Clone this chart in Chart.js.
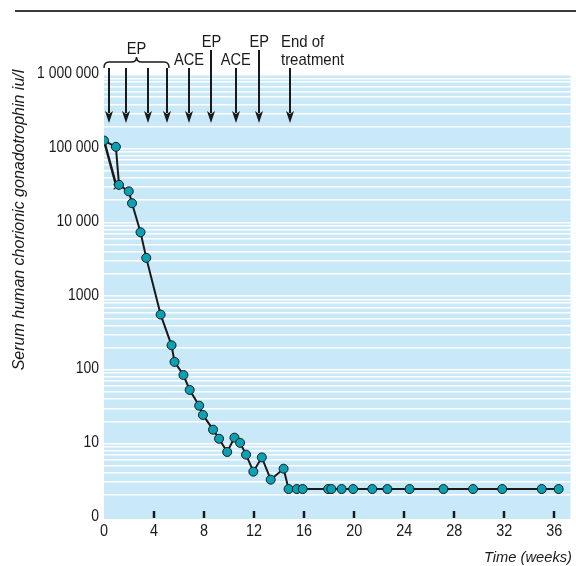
<!DOCTYPE html>
<html><head><meta charset="utf-8">
<script src="https://cdn.jsdelivr.net/npm/chart.js@4/dist/chart.umd.min.js"></script>
<style>html,body{margin:0;padding:0;background:#fff}canvas{display:block}</style>
</head><body>
<canvas id="c" width="576" height="566"></canvas>
<script>
// ---- data ----
const weeks = [0, 0.95, 1.2, 1.98, 2.24, 2.92, 3.38, 4.53, 5.40, 5.64, 6.35, 6.85, 7.61, 7.91, 8.72, 9.20, 9.85, 10.43, 10.88, 11.36, 11.94, 12.62, 13.33, 14.36, 14.76, 15.42, 15.89, 17.92, 18.18, 19.0, 19.92, 21.45, 22.66, 24.43, 27.14, 29.51, 31.84, 35.0, 36.35];
const hcg = [129000, 106000, 32300, 26400, 18200, 7350, 3300, 561, 215, 128, 85, 53.3, 32.6, 24.4, 15.4, 11.6, 7.67, 12.0, 10.2, 7.05, 4.15, 6.48, 3.23, 4.55, 2.41, 2.41, 2.41, 2.41, 2.41, 2.41, 2.41, 2.41, 2.41, 2.41, 2.41, 2.41, 2.41, 2.41, 2.41];
const altWeeks = [0, 1.0];
const altHcg = [129000, 30600];

const xTicks = [0, 4, 8, 12, 16, 20, 24, 28, 32, 36];
const xLabels = ['0', '4', '8', '12', '16', '20', '24', '28', '32', '36'];
const yDecades = [1, 10, 100, 1000, 10000, 100000, 1000000];
const yLabels = ['0', '10', '100', '1000', '10 000', '100 000', '1 000 000'];
const yTitle = 'Serum human chorionic gonadotrophin iu/l';
const xTitle = 'Time (weeks)';

const arrowWeeks = [0.42, 1.79, 3.50, 5.04, 6.80, 8.59, 10.54, 12.41, 14.84];
const arrowTall = [false, false, false, false, false, true, false, true, false];
const braceWeeks = [0, 5.2];
const topLabels = ['EP', 'ACE', 'EP', 'ACE', 'EP'];
const topLabelWeeks = [2.6, 6.80, 8.59, 10.54, 12.41];
const topLabelRow = [0, 1, 0, 1, 0];
const endLabel = ['End of', 'treatment'];
const endLabelWeek = 14.15;

const FAM = "'Liberation Sans','Arial',sans-serif";
const INK = '#1a1a1a';

// grid values: 1..9 x 10^k
const gridVals = [];
for (let e = 0; e < 6; e++) for (let s = 1; s < 10; s++) gridVals.push(s * Math.pow(10, e));
gridVals.push(1000000);

function narrowText(ctx, text, x, y, sx, align) {
  ctx.save();
  ctx.translate(x, y);
  ctx.scale(sx, 1);
  ctx.textAlign = align;
  ctx.fillText(text, 0, 0);
  ctx.restore();
}

const decor = {
  id: 'decor',
  beforeDraw(chart) {
    const {ctx, chartArea: a} = chart;
    ctx.save();
    ctx.fillStyle = '#c9e9f8';
    ctx.fillRect(a.left, a.top, a.right - a.left, a.bottom - a.top);
    ctx.restore();
  },
  afterDraw(chart) {
    const {ctx, chartArea: a} = chart;
    const xs = chart.scales.x, ys = chart.scales.y;
    ctx.save();
    // top rule
    ctx.fillStyle = '#3a3a3a';
    ctx.fillRect(15, 10, 561, 2);
    // bottom tick marks
    ctx.strokeStyle = INK; ctx.lineWidth = 2.5;
    xTicks.forEach(v => {
      if (v === 0) return;
      const px = Math.round(xs.getPixelForValue(v));
      ctx.beginPath(); ctx.moveTo(px, a.bottom - 8); ctx.lineTo(px, a.bottom - 1); ctx.stroke();
    });
    // tick labels
    ctx.fillStyle = INK;
    ctx.font = '16px ' + FAM;
    ctx.textBaseline = 'middle';
    yDecades.forEach((v, i) => {
      narrowText(ctx, yLabels[i], 99, ys.getPixelForValue(v) - 1, 0.87, 'right');
    });
    xTicks.forEach((v, i) => {
      narrowText(ctx, xLabels[i], xs.getPixelForValue(v), 531.5, 0.9, 'center');
    });
    // axis titles
    ctx.font = 'italic 16px ' + FAM;
    ctx.save();
    ctx.translate(20, 220);
    ctx.rotate(-Math.PI / 2);
    ctx.textAlign = 'center';
    ctx.fillText(yTitle, 0, 0);
    ctx.restore();
    ctx.font = 'italic 15px ' + FAM;
    narrowText(ctx, xTitle, 572, 558, 0.98, 'right');
    // arrows
    ctx.fillStyle = INK; ctx.strokeStyle = INK; ctx.lineWidth = 2;
    arrowWeeks.forEach((w, i) => {
      const px = Math.round(xs.getPixelForValue(w));
      const y0 = arrowTall[i] ? 50 : 68, tip = 123, hl = 12, hw = 4;
      ctx.beginPath(); ctx.moveTo(px, y0); ctx.lineTo(px, tip - hl + 2); ctx.stroke();
      ctx.beginPath(); ctx.moveTo(px - hw, tip - hl); ctx.lineTo(px, tip); ctx.lineTo(px + hw, tip - hl); ctx.lineTo(px, tip - hl + 3); ctx.closePath(); ctx.fill();
    });
    // brace
    const b0 = xs.getPixelForValue(braceWeeks[0]), b1 = xs.getPixelForValue(braceWeeks[1]);
    const bm = (b0 + b1) / 2, by = 62;
    ctx.lineWidth = 1.5;
    ctx.beginPath();
    ctx.moveTo(b0, by + 6);
    ctx.quadraticCurveTo(b0, by, b0 + 5, by);
    ctx.lineTo(bm - 5, by);
    ctx.quadraticCurveTo(bm, by, bm, by - 5);
    ctx.quadraticCurveTo(bm, by, bm + 5, by);
    ctx.lineTo(b1 - 5, by);
    ctx.quadraticCurveTo(b1, by, b1, by + 6);
    ctx.stroke();
    // annotation labels
    ctx.font = '17px ' + FAM;
    ctx.fillStyle = INK;
    ctx.textBaseline = 'middle';
    const rows = [42, 60];
    topLabels.forEach((t, i) => {
      const px = xs.getPixelForValue(topLabelWeeks[i]);
      const y = i === 0 ? 49 : rows[topLabelRow[i]];
      narrowText(ctx, t, px, y, 0.86, 'center');
    });
    const ex = xs.getPixelForValue(endLabelWeek);
    narrowText(ctx, endLabel[0], ex, rows[0], 0.88, 'left');
    narrowText(ctx, endLabel[1], ex, rows[1], 0.88, 'left');
    ctx.restore();
  }
};

new Chart(document.getElementById('c'), {
  type: 'scatter',
  data: {
    datasets: [
      {
        data: weeks.map((w, i) => ({x: w, y: hcg[i]})),
        showLine: true,
        borderColor: INK,
        borderWidth: 2,
        pointRadius: 4.5,
        pointBackgroundColor: '#0aa1b5',
        pointBorderColor: INK,
        pointBorderWidth: 1,
        order: 1
      },
      {
        data: altWeeks.map((w, i) => ({x: w, y: altHcg[i]})),
        showLine: true,
        borderColor: INK,
        borderWidth: 2.5,
        pointStyle: 'crossRot',
        pointRadius: [0, 4],
        pointBorderColor: INK,
        pointBorderWidth: 1.2,
        order: 2
      }
    ]
  },
  options: {
    responsive: false,
    animation: false,
    layout: {padding: {top: 75, left: 0, right: 0, bottom: 0}},
    plugins: {legend: {display: false}, tooltip: {enabled: false}},
    scales: {
      x: {
        type: 'linear',
        min: 0,
        max: 37.3,
        afterBuildTicks(s) { s.ticks = xTicks.map(v => ({value: v})); },
        afterFit(s) { s.height = 47; },
        grid: {display: false, drawTicks: false},
        border: {display: false},
        ticks: {display: false}
      },
      y: {
        type: 'logarithmic',
        min: 0.945,
        max: 1000000,
        afterBuildTicks(s) { s.ticks = gridVals.map(v => ({value: v})); },
        afterFit(s) { s.width = 104; },
        grid: {
          drawTicks: false,
          lineWidth: 1.5,
          color: ctx => (ctx.tick && (ctx.tick.value === 1)) ? 'rgba(0,0,0,0)' : '#ffffff'
        },
        border: {display: false},
        ticks: {display: false}
      }
    }
  },
  plugins: [decor]
});
</script>
</body></html>
